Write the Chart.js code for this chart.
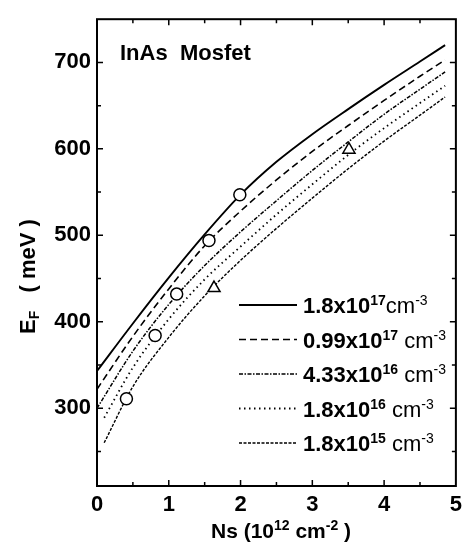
<!DOCTYPE html>
<html>
<head>
<meta charset="utf-8">
<script src="https://cdn.jsdelivr.net/npm/chart.js@4.4.0/dist/chart.umd.min.js"></script>
<style>
  body { margin: 0; background: #fff; }
  canvas { display: block; }
</style>
</head>
<body>
<canvas id="mycanvas" width="468" height="548"></canvas>
<script>
// Ns values (10^12 cm^-2) where the curves were read
var nsFrom0  = [0,   0.5, 1, 1.5, 2, 2.5, 3, 3.5, 4, 4.5, 4.85];
var nsFrom01 = [0.1, 0.5, 1, 1.5, 2, 2.5, 3, 3.5, 4, 4.5, 4.85];

// EF (meV) for each doping level
var ef18e17  = [343, 398, 451, 501, 547, 585, 617, 646, 674, 701, 720];
var ef099e17 = [322, 383, 438, 488, 528, 564, 597, 627, 656, 684, 703];
var ef433e16 = [300, 366, 420, 465, 504, 540, 575, 608, 640, 669, 689];
var ef18e16  = [289, 347, 403, 449, 487, 524, 559, 593, 624, 653, 673];
var ef18e15  = [260, 325, 382, 430, 471, 508, 543, 577, 609, 639, 660];

var seriesNames = ['1.8x10^17cm^-3', '0.99x10^17 cm^-3', '4.33x10^16 cm^-3', '1.8x10^16 cm^-3', '1.8x10^15 cm^-3'];

// measured points
var circleNs = [0.41, 0.81, 1.11, 1.56, 1.99];
var circleEf = [311, 384, 432, 494, 547];
var triangleNs = [1.63, 3.51];
var triangleEf = [439, 599];

// tick labels
var xTickLabels = [0, 1, 2, 3, 4, 5];
var yTickLabels = [300, 400, 500, 600, 700];

var FONT = '"Liberation Sans", Arial, Helvetica, sans-serif';

function toPoints(xs, ys) {
  var pts = [];
  for (var i = 0; i < xs.length; i++) pts.push({x: xs[i], y: ys[i]});
  return pts;
}

function drawRich(ctx, parts, x, y, align) {
  var w = 0;
  parts.forEach(function(p) { ctx.font = p[1]; w += ctx.measureText(p[0]).width; });
  var cx = align === 'center' ? x - w / 2 : x;
  parts.forEach(function(p) {
    ctx.font = p[1];
    ctx.fillText(p[0], cx, y + p[2]);
    cx += ctx.measureText(p[0]).width;
  });
}

// "1.8x10^17cm^-3" -> rich text parts
function labelParts(name) {
  var bits = name.split(/\^(-?\d+)/);
  var parts = [];
  var weight = 'bold ';
  for (var i = 0; i < bits.length; i++) {
    if (bits[i] === '') continue;
    if (bits[i].indexOf('cm') >= 0) weight = '';
    if (i % 2 === 1) parts.push([bits[i], weight + '14px ' + FONT, -8]);
    else parts.push([bits[i], weight + '22px ' + FONT, 0]);
  }
  return parts;
}

var lineStyles = [
  {dash: [], width: 1.9},
  {dash: [7, 4], width: 1.6},
  {dash: [4, 1.5, 1.5, 1.5], width: 1.5},
  {dash: [1.5, 3.5], width: 1.8},
  {dash: [3, 1.5], width: 1.4}
];
var seriesData = [
  toPoints(nsFrom0, ef18e17),
  toPoints(nsFrom0, ef099e17),
  toPoints(nsFrom0, ef433e16),
  toPoints(nsFrom01, ef18e16),
  toPoints(nsFrom01, ef18e15)
];

var datasets = [
  {
    label: 'circles',
    data: toPoints(circleNs, circleEf),
    showLine: false,
    pointStyle: 'circle',
    pointRadius: 6,
    pointBorderWidth: 1.5,
    pointBorderColor: '#000',
    pointBackgroundColor: '#fff',
    order: 0
  },
  {
    label: 'triangles',
    data: toPoints(triangleNs, triangleEf),
    showLine: false,
    pointStyle: 'triangle',
    pointRadius: 7,
    pointBorderWidth: 1.5,
    pointBorderColor: '#000',
    pointBackgroundColor: '#fff',
    order: 0
  }
];
for (var i = 0; i < seriesNames.length; i++) {
  datasets.push({
    label: seriesNames[i],
    data: seriesData[i],
    borderColor: '#000',
    borderWidth: lineStyles[i].width,
    borderDash: lineStyles[i].dash,
    pointRadius: 0,
    fill: false,
    cubicInterpolationMode: 'monotone',
    order: 1
  });
}

var decorations = {
  id: 'decorations',
  afterDraw: function(chart) {
    var ctx = chart.ctx;
    var a = chart.chartArea;
    var xs = chart.scales.x, ys = chart.scales.y;
    ctx.save();
    ctx.strokeStyle = '#000';
    ctx.fillStyle = '#000';
    ctx.setLineDash([]);

    // frame
    ctx.lineWidth = 2;
    ctx.strokeRect(a.left, a.top, a.right - a.left, a.bottom - a.top);

    // inward ticks
    ctx.lineWidth = 1.5;
    ctx.beginPath();
    for (var v = 0.5; v < 5; v += 0.5) {
      var px = xs.getPixelForValue(v);
      var len = (v % 1 === 0) ? 6 : 4;
      ctx.moveTo(px, a.bottom); ctx.lineTo(px, a.bottom - len);
      ctx.moveTo(px, a.top); ctx.lineTo(px, a.top + len);
    }
    for (var w = 250; w < 750; w += 50) {
      var py = ys.getPixelForValue(w);
      var l2 = (w % 100 === 0) ? 6 : 4;
      ctx.moveTo(a.left, py); ctx.lineTo(a.left + l2, py);
      ctx.moveTo(a.right, py); ctx.lineTo(a.right - l2, py);
    }
    ctx.stroke();

    // in-plot title
    ctx.textAlign = 'left';
    ctx.textBaseline = 'alphabetic';
    ctx.font = 'bold 22px ' + FONT;
    ctx.fillText('InAs  Mosfet', 120, 60);

    // legend
    for (var k = 0; k < seriesNames.length; k++) {
      var ly = 305 + k * 34.5;
      ctx.lineWidth = lineStyles[k].width;
      ctx.setLineDash(lineStyles[k].dash);
      ctx.beginPath();
      ctx.moveTo(239, ly);
      ctx.lineTo(297, ly);
      ctx.stroke();
      ctx.setLineDash([]);
      drawRich(ctx, labelParts(seriesNames[k]), 303, ly + 8, 'left');
    }

    // x axis title
    drawRich(ctx, [
      ['Ns (10', 'bold 21px ' + FONT, 0],
      ['12', 'bold 14px ' + FONT, -8],
      [' cm', 'bold 21px ' + FONT, 0],
      ['-2', 'bold 14px ' + FONT, -8],
      [' )', 'bold 21px ' + FONT, 0]
    ], 281, 538, 'center');

    // y axis title
    ctx.translate(35, 334);
    ctx.rotate(-Math.PI / 2);
    drawRich(ctx, [
      ['E', 'bold 22px ' + FONT, 0],
      ['F', 'bold 14px ' + FONT, 4],
      ['   ( meV )', 'bold 22px ' + FONT, 0]
    ], 0, 0, 'left');
    ctx.restore();
  }
};

var ctx = document.getElementById('mycanvas');
var chart = new Chart(ctx, {
  type: 'line',
  data: { datasets: datasets },
  options: {
    responsive: false,
    animation: false,
    layout: { padding: { top: 4, right: 5, left: 0, bottom: 0 } },
    plugins: { legend: { display: false }, tooltip: { enabled: false } },
    scales: {
      x: {
        type: 'linear',
        min: 0,
        max: 5,
        grid: { display: false, drawTicks: false },
        border: { display: false },
        ticks: {
          stepSize: 1,
          padding: 6,
          color: '#000',
          font: { family: FONT, size: 22, weight: 'bold' },
          callback: function(v) { return xTickLabels.indexOf(v) >= 0 ? String(v) : ''; }
        },
        afterFit: function(s) { s.height = 62; }
      },
      y: {
        type: 'linear',
        min: 210,
        max: 750,
        grid: { display: false, drawTicks: false },
        border: { display: false },
        ticks: {
          stepSize: 100,
          padding: 6,
          color: '#000',
          font: { family: FONT, size: 22, weight: 'bold' },
          callback: function(v) { return yTickLabels.indexOf(v) >= 0 ? String(v) : ''; }
        },
        afterFit: function(s) { s.width = 97; }
      }
    }
  },
  plugins: [decorations]
});
</script>
</body>
</html>
